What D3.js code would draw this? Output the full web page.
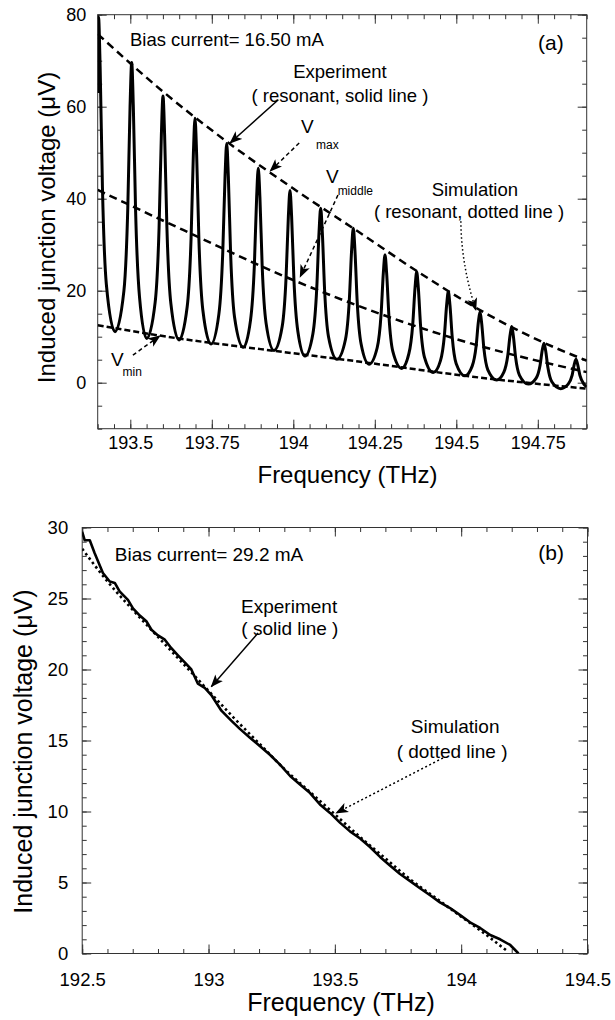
<!DOCTYPE html>
<html><head><meta charset="utf-8">
<script src="https://cdn.jsdelivr.net/npm/d3@7"></script>
<style>
html,body{margin:0;padding:0;background:#fff;}
svg{display:block;}
text{font-family:"Liberation Sans", Arial, Helvetica, sans-serif; fill:#000;}
</style></head><body>
<svg id="chart" width="615" height="1020"></svg>
<script>
// ---------------- DATA ----------------
// Panel (a): bias 16.50 mA, resonant experiment trace [frequency THz, voltage µV]
const expA = [
[193.400,63.0],[193.4025,79.5],[193.4075,68.6],[193.4145,42.6],[193.4265,21.4],[193.4531,11.1],
[193.4803,19.9],[193.4923,38.0],[193.4993,60.2],[193.5043,69.6],[193.5093,60.0],[193.5163,37.2],[193.5283,18.6],[193.5503,9.6],
[193.5763,17.5],[193.5883,33.8],[193.5953,53.9],[193.6003,62.3],[193.6053,53.8],[193.6123,33.7],[193.6243,17.3],[193.6494,9.3],
[193.6745,16.5],[193.6865,31.5],[193.6935,49.8],[193.6985,57.5],[193.7035,49.6],[193.7105,31.0],[193.7225,15.8],[193.7476,8.4],
[193.7717,14.9],[193.7837,28.5],[193.7907,45.0],[193.7957,52.0],[193.8007,44.9],[193.8077,28.1],[193.8197,14.3],[193.8466,7.7],
[193.8686,13.5],[193.8806,25.6],[193.8876,40.4],[193.8926,46.6],[193.8976,40.3],[193.9046,25.2],[193.9166,12.9],[193.9408,7.0],
[193.9659,12.2],[193.9779,23.0],[193.9849,36.2],[193.9899,41.8],[193.9949,36.0],[194.0019,22.4],[194.0139,11.2],[194.0359,5.8],
[194.0600,10.6],[194.0720,20.6],[194.0790,32.8],[194.0840,37.9],[194.0890,32.7],[194.0960,20.2],[194.1080,10.0],[194.1340,5.1],
[194.1600,9.4],[194.1720,18.2],[194.1790,29.0],[194.1840,33.6],[194.1890,28.9],[194.1960,17.6],[194.2080,8.4],[194.2322,4.0],
[194.2573,7.6],[194.2693,14.9],[194.2763,24.0],[194.2813,27.8],[194.2863,23.8],[194.2933,14.5],[194.3053,6.8],[194.3325,3.1],
[194.3545,6.3],[194.3665,12.8],[194.3735,20.7],[194.3785,24.1],[194.3835,20.6],[194.3905,12.3],[194.4025,5.5],[194.4294,2.2],
[194.4515,4.8],[194.4635,10.3],[194.4705,17.0],[194.4755,19.8],[194.4805,16.9],[194.4875,9.9],[194.4995,4.2],[194.5267,1.5],
[194.5487,3.6],[194.5607,7.9],[194.5677,13.2],[194.5727,15.4],[194.5777,13.0],[194.5847,7.4],[194.5967,2.8],[194.6239,0.6],
[194.6459,2.3],[194.6579,5.9],[194.6649,10.3],[194.6699,12.2],[194.6749,10.2],[194.6819,5.5],[194.6939,1.6],[194.7209,-0.3],
[194.7450,1.0],[194.7570,3.8],[194.7640,7.2],[194.7690,8.6],[194.7740,7.0],[194.7810,3.3],[194.7930,0.2],[194.8202,-1.3],
[194.8432,-0.3],[194.8552,1.6],[194.8622,4.1],[194.8672,5.1],[194.8722,4.0],[194.8792,1.6],[194.8912,-0.3],[194.9000,-0.9]
];
// Envelope lines in panel (a)
const vmaxA = [[193.4,75.8],[193.6,63.3],[193.8,52.2],[194.0,42.2],[194.2,32.8],[194.4,23.3],[194.6,14.7],[194.8,7.7],[194.9,4.8]];
const vmidA = [[193.4,41.9],[193.662,33.2],[193.99,22.6],[194.542,8.6],[194.9,2.3]];
const vminA = [[193.4,12.5],[193.65,9.6],[193.9,7.3],[194.2,4.6],[194.55,1.3],[194.9,-1.3]];
const xLabelsA = [193.5, 193.75, 194, 194.25, 194.5, 194.75];
const yLabelsA = [0, 20, 40, 60, 80];

// Panel (b): bias 29.2 mA, non-resonant
const expB = [
[192.500,29.7],[192.510,29.1],[192.530,29.1],[192.549,28.2],[192.582,26.8],[192.609,26.2],[192.629,26.1],
[192.648,25.5],[192.681,24.9],[192.701,24.3],[192.728,23.8],[192.754,23.4],[192.774,22.8],[192.800,22.4],
[192.827,22.1],[192.853,21.5],[192.879,21.0],[192.906,20.5],[192.932,20.0],[192.958,19.0],[192.985,18.7],
[193.011,18.2],[193.051,17.1],[193.090,16.4],[193.125,15.8],[193.164,15.2],[193.204,14.6],[193.243,14.0],
[193.283,13.3],[193.323,12.5],[193.362,11.9],[193.402,11.3],[193.441,10.5],[193.481,9.9],[193.521,9.2],
[193.560,8.6],[193.600,8.1],[193.639,7.5],[193.679,6.8],[193.718,6.2],[193.758,5.6],[193.798,5.1],
[193.837,4.6],[193.877,4.1],[193.916,3.6],[193.956,3.2],[193.996,2.7],[194.035,2.2],[194.075,1.8],
[194.115,1.3],[194.154,1.0],[194.194,0.6],[194.227,0.0]
];
const simB = [[192.5,28.5],[192.6,26.2],[192.7,24.2],[192.8,22.3],[192.9,20.4],[193.0,18.5],[193.1,16.6],[193.2,14.8],
[193.3,13.0],[193.4,11.4],[193.5,9.8],[193.6,8.2],[193.7,6.7],[193.8,5.2],[193.9,3.9],[194.0,2.6],[194.1,1.3],[194.18,0.2]];
const xLabelsB = [192.5, 193, 193.5, 194, 194.5];
const yLabelsB = [0, 5, 10, 15, 20, 25, 30];

// ---------------- DRAWING ----------------
const svg = d3.select("#chart");
const defs = svg.append("defs");
defs.append("marker").attr("id","ah").attr("viewBox","0 -6 14 12")
  .attr("refX",13).attr("refY",0).attr("markerWidth",13).attr("markerHeight",11)
  .attr("markerUnits","userSpaceOnUse").attr("orient","auto")
  .append("path").attr("d","M0,-5.5L14,0L0,5.5L3.5,0Z").attr("fill","#000");

const fmt = d => String(+d.toFixed(2));

function panel(o){
  const g = svg.append("g");
  const x = d3.scaleLinear().domain(o.xd).range([o.L,o.R]);
  const y = d3.scaleLinear().domain(o.yd).range([o.B,o.T]);
  const cid = "clip"+o.id;
  defs.append("clipPath").attr("id",cid).append("rect")
    .attr("x",o.L).attr("y",o.T).attr("width",o.R-o.L).attr("height",o.B-o.T);

  function ax(axis, tr, vals, size, labels, pad, fs){
    const a = axis.tickValues(vals).tickSize(size).tickSizeOuter(0).tickPadding(pad)
      .tickFormat(labels ? fmt : "");
    const gg = g.append("g").attr("transform",tr).call(a);
    gg.select(".domain").remove();
    gg.selectAll("line").attr("stroke","#333").attr("stroke-width",1);
    gg.selectAll("text").attr("font-size",fs).attr("font-family",'"Liberation Sans", Arial, sans-serif').attr("fill","#000");
    return gg;
  }
  ax(d3.axisBottom(x), `translate(0,${o.B})`, o.xMinor, -4.5, false, 0, 0);
  ax(d3.axisBottom(x), `translate(0,${o.B})`, o.xMajor, -9, true, o.xPad, o.fs);
  ax(d3.axisTop(x), `translate(0,${o.T})`, o.xMinor, -4.5, false, 0, 0);
  ax(d3.axisTop(x), `translate(0,${o.T})`, o.xMajor, -9, false, 0, 0);
  ax(d3.axisLeft(y), `translate(${o.L},0)`, o.yMinor, -4.5, false, 0, 0);
  ax(d3.axisLeft(y), `translate(${o.L},0)`, o.yMajor, -9, true, o.yPad, o.fs);
  ax(d3.axisRight(y), `translate(${o.R},0)`, o.yMinor, -4.5, false, 0, 0);
  ax(d3.axisRight(y), `translate(${o.R},0)`, o.yMajor, -9, false, 0, 0);

  g.append("rect").attr("x",o.L).attr("y",o.T).attr("width",o.R-o.L).attr("height",o.B-o.T)
    .attr("fill","none").attr("stroke","#333").attr("stroke-width",1);

  const plot = g.append("g").attr("clip-path",`url(#${cid})`);
  o.lines.forEach(l=>{
    const gen = d3.line().x(d=>x(d[0])).y(d=>y(d[1])).curve(l.curve||d3.curveLinear);
    plot.append("path").attr("d",gen(l.data)).attr("fill","none").attr("stroke","#000")
      .attr("stroke-width",l.w).attr("stroke-dasharray",l.dash||null)
      .attr("stroke-linejoin","round");
  });

  o.texts.forEach(t=>{
    g.append("text").attr("x",x(t.f)).attr("y",y(t.v)).text(t.s)
      .attr("font-size",t.fs||o.afs).attr("text-anchor",t.anchor||"start")
      .attr("font-family",t.serif?'"Liberation Serif", "Times New Roman", serif':null);
  });
  o.arrows.forEach(a=>{
    let d;
    if(a.c) d = `M${x(a.p0[0])},${y(a.p0[1])}Q${x(a.c[0])},${y(a.c[1])} ${x(a.p1[0])},${y(a.p1[1])}`;
    else d = `M${x(a.p0[0])},${y(a.p0[1])}L${x(a.p1[0])},${y(a.p1[1])}`;
    g.append("path").attr("d",d).attr("fill","none").attr("stroke","#000")
      .attr("stroke-width",a.w||1.5).attr("stroke-dasharray",a.dash||null)
      .attr("marker-end","url(#ah)");
  });
  g.append("text").attr("transform",`translate(${o.ytx},${o.yty}) rotate(-90)`)
    .attr("text-anchor","middle").attr("font-size",o.tfs).text("Induced junction voltage (\u03bcV)");
  g.append("text").attr("x",o.xtx).attr("y",o.xty)
    .attr("text-anchor","middle").attr("font-size",o.tfs).text("Frequency (THz)");
}

panel({
  id:"A", L:97.7, R:586.7, T:14.7, B:428.7, xd:[193.4,194.9], yd:[-10,80],
  xMajor:xLabelsA, xMinor:d3.range(193.4,194.9001,0.05), yMajor:yLabelsA, yMinor:d3.range(-10,80.001,5),
  xPad:8, yPad:11.5, fs:18, afs:18.5, tfs:24, ytx:55, yty:227.5, xtx:347.5, xty:483,
  lines:[
    {data:vmaxA, w:2.5, dash:"8,5", curve:d3.curveMonotoneX},
    {data:vmidA, w:2.5, dash:"8,5", curve:d3.curveMonotoneX},
    {data:vminA, w:2.5, dash:"6,3", curve:d3.curveMonotoneX},
    {data:expA, w:3, curve:d3.curveMonotoneX}
  ],
  texts:[
    {f:193.499, v:73.2, s:"Bias current= 16.50 mA"},
    {f:194.790, v:72.3, s:"(a)", anchor:"middle", serif:true, fs:21},
    {f:194.143, v:66.2, s:"Experiment", anchor:"middle"},
    {f:194.143, v:61.0, s:"( resonant, solid line )", anchor:"middle"},
    {f:194.024, v:54.3, s:"V", fs:19},
    {f:194.070, v:50.8, s:"max", fs:12},
    {f:194.100, v:43.4, s:"V", fs:19},
    {f:194.136, v:40.9, s:"middle", fs:12},
    {f:194.557, v:40.6, s:"Simulation", anchor:"middle"},
    {f:194.539, v:35.8, s:"( resonant, dotted line )", anchor:"middle"},
    {f:193.441, v:3.6, s:"V", fs:19},
    {f:193.476, v:1.5, s:"min", fs:12}
  ],
  arrows:[
    {p0:[193.954,61.5], p1:[193.806,52.1]},
    {p0:[194.018,52.1], p1:[193.929,46.0], dash:"4,3"},
    {p0:[194.137,40.8], p1:[194.021,23.0], dash:"4,3"},
    {p0:[194.514,35.1], c:[194.515,25.7], p1:[194.560,15.8], dash:"1.5,2.5"},
    {p0:[193.508,6.0], p1:[193.591,10.2], dash:"4,3"}
  ]
});

panel({
  id:"B", L:82.2, R:587.5, T:527.5, B:953.5, xd:[192.5,194.5], yd:[0,30],
  xMajor:xLabelsB, xMinor:d3.range(192.5,194.5001,0.1), yMajor:yLabelsB, yMinor:d3.range(0,30.001,1),
  xPad:19, yPad:14, fs:18.5, afs:19, tfs:25, ytx:32, yty:751.5, xtx:341, xty:1011,
  lines:[
    {data:simB, w:2.6, dash:"2.5,3", curve:d3.curveMonotoneX},
    {data:expB, w:2.6}
  ],
  texts:[
    {f:192.629, v:27.65, s:"Bias current= 29.2 mA"},
    {f:194.356, v:27.7, s:"(b)", anchor:"middle", serif:true, fs:21},
    {f:193.319, v:24.0, s:"Experiment", anchor:"middle"},
    {f:193.322, v:22.4, s:"( solid line )", anchor:"middle"},
    {f:193.976, v:15.5, s:"Simulation", anchor:"middle"},
    {f:193.964, v:13.8, s:"( dotted line )", anchor:"middle"}
  ],
  arrows:[
    {p0:[193.196,22.57], p1:[193.011,18.79]},
    {p0:[193.928,13.77], p1:[193.505,9.89], dash:"2,2.5"}
  ]
});
</script>
</body></html>
